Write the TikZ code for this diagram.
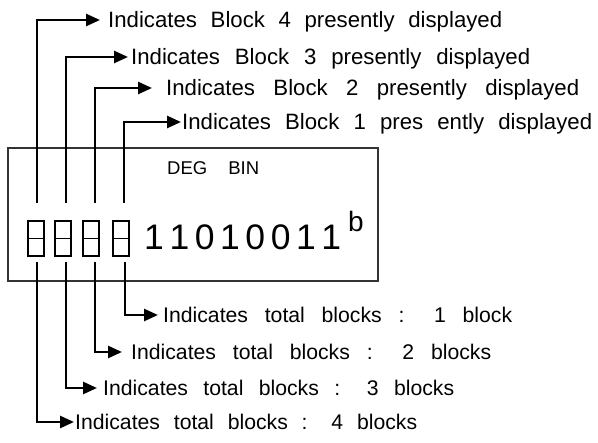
\documentclass[tikz,border=0pt]{standalone}
\usepackage{fontspec}
\setmainfont{Liberation Sans}
\usetikzlibrary{arrows.meta}
\begin{document}
\begin{tikzpicture}[x=1pt,y=-1pt,
  conn/.style={line width=2.6pt, -{Triangle[length=14pt,width=12pt]}},
  toplab/.style={inner sep=0pt, anchor=west, text height=15.9pt, text depth=0pt,
    font=\fontsize{22.2}{24}\selectfont},
  botlab/.style={inner sep=0pt, anchor=west, text height=15.2pt, text depth=0pt,
    font=\fontsize{21.2}{23}\selectfont},
  digitbox/.style={draw, line width=1.3pt, minimum width=16pt, minimum height=35pt, inner sep=0pt},
  dispbox/.style={draw=black!80, line width=2.5pt, minimum width=370pt, minimum height=133pt, inner sep=0pt}
]
\useasboundingbox (0,0) rectangle (598,443);
% display
\node[dispbox] (disp) at (193,214.5) {};
\node[inner sep=0pt, anchor=base west, font=\fontsize{18.5}{20}\selectfont] (deg) at (167,175) {\makebox[92pt][s]{DEG BIN}};
\node[inner sep=0pt, anchor=base west, font=\fontsize{35.5}{37}\selectfont] (num) at (144,250) {\makebox[197pt][s]{1\hfil 1\hfil 0\hfil 1\hfil 0\hfil 0\hfil 1\hfil 1}};
\node[inner sep=0pt, anchor=base west, font=\fontsize{28}{30}\selectfont] (sup) at (348,232) {b};
% digit boxes
\foreach \n/\x in {1/36,2/63,3/91,4/121}{
  \node[digitbox] (d\n) at (\x,238.5) {};
  \draw[line width=1.3pt] (d\n.west) -- (d\n.east);
}
% top labels
\node[toplab] (t4) at (108,20) {\makebox[394pt][s]{Indicates Block 4 presently displayed}};
\node[toplab] (t3) at (131,57) {\makebox[399pt][s]{Indicates Block 3 presently displayed}};
\node[toplab] (t2) at (166,88) {\makebox[413pt][s]{Indicates Block 2 presently displayed}};
\node[toplab] (t1) at (182,122) {\makebox[410pt][s]{Indicates Block 1 pres ently displayed}};
% bottom labels
\node[botlab] (b1) at (163,315) {\makebox[349pt][s]{Indicates total blocks : 1 block}};
\node[botlab] (b2) at (131,352) {\makebox[360pt][s]{Indicates total blocks : 2 blocks}};
\node[botlab] (b3) at (103,388) {\makebox[351pt][s]{Indicates total blocks : 3 blocks}};
\node[botlab] (b4) at (75,422) {\makebox[342pt][s]{Indicates total blocks : 4 blocks}};
% connector start points
\coordinate (s4) at (37,203);
\coordinate (s3) at (66,203);
\coordinate (s2) at (95,203);
\coordinate (s1) at (124,203);
\coordinate (u4) at (37,262);
\coordinate (u3) at (66,262);
\coordinate (u2) at (95,262);
\coordinate (u1) at (125,262);
% connectors
\draw[conn, shorten >=8pt] (s4) |- (t4.west);
\draw[conn, shorten >=3pt] (s3) |- (t3.west);
\draw[conn, shorten >=14pt] (s2) |- (t2.west);
\draw[conn, shorten >=1pt] (s1) |- (t1.west);
\draw[conn, shorten >=5pt] (u1) |- (b1.west);
\draw[conn, shorten >=9pt] (u2) |- (b2.west);
\draw[conn, shorten >=6pt] (u3) |- (b3.west);
\draw[conn, shorten >=1pt] (u4) |- (b4.west);
\end{tikzpicture}
\end{document}
